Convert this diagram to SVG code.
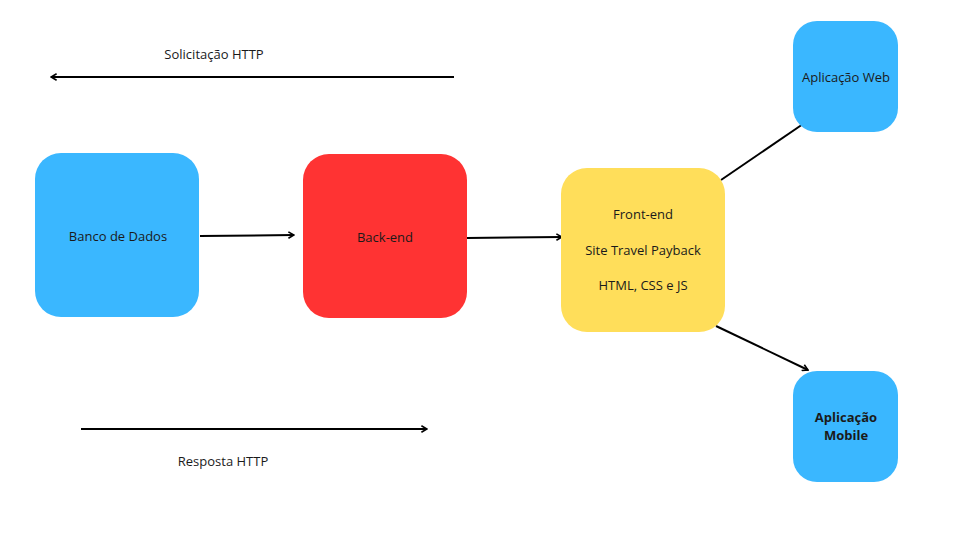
<svg xmlns="http://www.w3.org/2000/svg" width="965" height="547" viewBox="0 0 965 547">
<defs>
<style>
.t{font-family:"Open Sans","Noto Sans","Liberation Sans",sans-serif;font-size:13px;fill:#1a1a1a;text-anchor:middle;dominant-baseline:central}
.b{font-weight:bold}
.ln{stroke:#000;stroke-width:2;fill:none}
</style>
<marker id="ah" viewBox="0 0 10 10" refX="9" refY="5" markerWidth="8" markerHeight="8" markerUnits="userSpaceOnUse" orient="auto">
<polyline points="2,1 9,5 2,9" fill="none" stroke="#000" stroke-width="2"/>
</marker>
</defs>
<rect width="965" height="547" fill="#fff"/>
<g id="connectors">
<line class="ln" x1="454" y1="77" x2="51" y2="77" marker-end="url(#ah)"/>
<line class="ln" x1="81" y1="429" x2="427" y2="429" marker-end="url(#ah)"/>
<line class="ln" x1="200" y1="236" x2="294" y2="235" marker-end="url(#ah)"/>
<line class="ln" x1="467" y1="238" x2="562" y2="237" marker-end="url(#ah)"/>
<line class="ln" x1="721" y1="180" x2="803" y2="124"/>
<line class="ln" x1="716" y1="326" x2="808" y2="370" marker-end="url(#ah)"/>
</g>
<g id="label-solicitacao"><text class="t" x="214" y="54">Solicitação HTTP</text></g>
<g id="label-resposta"><text class="t" x="223" y="461">Resposta HTTP</text></g>
<g id="banco">
<rect x="35" y="153" width="164" height="164" rx="26" fill="#3AB7FF"/>
<text class="t" x="118" y="236">Banco de Dados</text>
</g>
<g id="backend">
<rect x="303" y="154" width="164" height="164" rx="26" fill="#FF3333"/>
<text class="t" x="385" y="237">Back-end</text>
</g>
<g id="frontend">
<rect x="561" y="168" width="164" height="164" rx="26" fill="#FFDE5A"/>
<text class="t" x="643" y="214">Front-end</text>
<text class="t" x="643" y="250">Site Travel Payback</text>
<text class="t" x="643" y="285">HTML, CSS e JS</text>
</g>
<g id="web">
<rect x="793" y="21" width="105" height="111" rx="24" fill="#3AB7FF"/>
<text class="t" x="846" y="77">Aplicação Web</text>
</g>
<g id="mobile">
<rect x="793" y="371" width="105" height="111" rx="24" fill="#3AB7FF"/>
<text class="t b" x="846" y="417">Aplicação</text>
<text class="t b" x="846" y="435">Mobile</text>
</g>
</svg>
